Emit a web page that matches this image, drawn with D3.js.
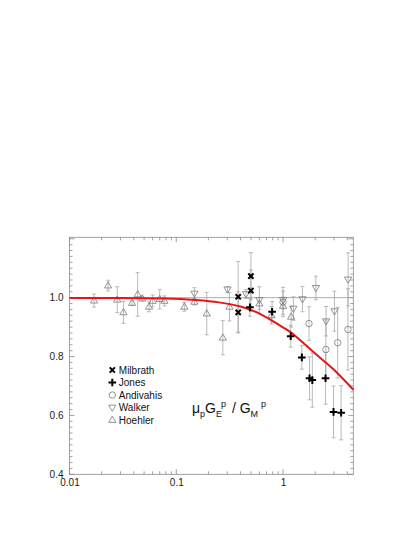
<!DOCTYPE html>
<html>
<head>
<meta charset="utf-8">
<script src="https://cdn.jsdelivr.net/npm/d3@7"></script>
<style>
html,body{margin:0;padding:0;background:#fff;}
svg{display:block;font-family:"Liberation Sans",Arial,Helvetica,sans-serif;}
</style>
</head>
<body>
<script>
// ---- data ----
// each point: [Q2, value, error]
const milbrath = [[0.38,1.003,0.12],[0.38,0.950,0.07],[0.50,1.073,0.08],[0.50,1.024,0.07]];
const jones = [[0.49,0.967,0.03],[0.79,0.952,0.035],[1.18,0.869,0.037],[1.50,0.797,0.04],
               [1.77,0.726,0.073],[1.88,0.720,0.092],[2.50,0.726,0.088],[2.97,0.612,0.088],[3.50,0.609,0.092]];
const andivahis = [[1.00,0.985,0.05],[1.75,0.912,0.057],[2.52,0.824,0.10],[3.25,0.847,0.12],[4.05,0.892,0.138]];
const walker = [[0.148,1.014,0.02],[0.302,1.028,0.01],[0.45,1.012,0.015],[0.60,0.992,0.045],[1.00,0.992,0.03],
                [1.25,0.963,0.04],[1.52,0.995,0.043],[2.03,1.033,0.04],[2.53,0.920,0.05],[3.03,0.954,0.068],[4.07,1.062,0.09]];
const hoehler = [[0.017,0.990,0.022],[0.023,1.041,0.018],[0.028,0.993,0.044],[0.032,0.950,0.037],[0.0386,0.982,0.008],
                 [0.0435,1.011,0.074],[0.048,0.997,0.008],[0.0556,0.969,0.017],[0.060,0.989,0.02],[0.070,0.995,0.033],
                 [0.0774,0.989,0.017],[0.119,0.969,0.015],[0.148,0.986,0.011],[0.193,0.946,0.072],[0.273,0.864,0.058],
                 [0.315,0.969,0.048],[0.60,0.980,0.02],[0.78,0.940,0.03],[1.00,0.972,0.03],[1.19,0.935,0.035]];
// theory curve
const curveQ2 = [0.01,0.03,0.08,0.15,0.25,0.40,0.60,0.94,1.25,1.45,2.0,3.0,4.55];
const curveVal = [0.999,0.999,0.997,0.992,0.984,0.970,0.946,0.905,0.876,0.855,0.810,0.755,0.687];
const legendNames = ["Milbrath","Jones","Andivahis","Walker","Hoehler"];
const xTickLabels = [0.01,0.1,1];
const yTickLabels = [0.4,0.6,0.8,1.0];
const xDomain = [0.01,4.55];
const yDomain = [0.4,1.205];

// ---- layout ----
const W = 414, H = 535;
const L = 69.5, R = 353.3, T = 237.3, B = 474.3;
const frameCol = "#8a8a8a", markCol = "#7a7a7a", errCol = "#a8a8a8";

const svg = d3.select("body").append("svg").attr("width", W).attr("height", H);
svg.append("rect").attr("width", W).attr("height", H).attr("fill", "#fff");

const x = d3.scaleLog().domain(xDomain).range([L, R]);
const y = d3.scaleLinear().domain(yDomain).range([B, T]);

// minor/major ticks
const xMinor = x.ticks().filter(v => v >= xDomain[0] && v <= xDomain[1]);
const yMinor = d3.range(0.40, 1.2001, 0.02).map(v => +v.toFixed(2));
const isMajorX = v => xTickLabels.some(t => Math.abs(t - v) < 1e-9);
const isMajorY = v => Math.abs(v * 5 - Math.round(v * 5)) < 1e-6;

function tickAxis(axisGen, vals, isMajor, transform) {
  const g = svg.append("g").attr("transform", transform);
  g.call(axisGen.tickValues(vals).tickSize(0).tickFormat(""));
  g.select(".domain").remove();
  return g;
}
// draw ticks manually as lines using scales
const tk = svg.append("g").attr("stroke", frameCol).attr("stroke-width", 0.8);
xMinor.forEach(v => {
  const len = isMajorX(v) ? 5 : 3;
  tk.append("line").attr("x1", x(v)).attr("x2", x(v)).attr("y1", B).attr("y2", B - len);
  tk.append("line").attr("x1", x(v)).attr("x2", x(v)).attr("y1", T).attr("y2", T + len);
});
yMinor.forEach(v => {
  const len = isMajorY(v) ? 5 : 3;
  tk.append("line").attr("y1", y(v)).attr("y2", y(v)).attr("x1", L).attr("x2", L + len);
  tk.append("line").attr("y1", y(v)).attr("y2", y(v)).attr("x1", R).attr("x2", R - len);
});

// axis labels via d3 axes
const xAxis = svg.append("g").attr("transform", `translate(0,${B})`)
  .call(d3.axisBottom(x).tickValues(xTickLabels).tickSize(0).tickPadding(5)
        .tickFormat(d => d3.format("~g")(d)));
xAxis.select(".domain").remove();
xAxis.selectAll("text").attr("font-size", 10).attr("fill", "#222").attr("font-family", null);

const yAxis = svg.append("g").attr("transform", `translate(${L},0)`)
  .call(d3.axisLeft(y).tickValues(yTickLabels).tickSize(0).tickPadding(6).tickFormat(d3.format(".1f")));
yAxis.select(".domain").remove();
yAxis.selectAll("text").attr("font-size", 10).attr("fill", "#222").attr("font-family", null);

// frame
svg.append("rect").attr("x", L).attr("y", T).attr("width", R - L).attr("height", B - T)
  .attr("fill", "none").attr("stroke", frameCol).attr("stroke-width", 0.8);

// unity line
svg.append("line").attr("x1", L).attr("x2", R).attr("y1", y(1)).attr("y2", y(1))
  .attr("stroke", "#999").attr("stroke-width", 0.8);

// error bars
const allSets = [hoehler, walker, andivahis, milbrath, jones];
const eg = svg.append("g").attr("stroke", errCol).attr("stroke-width", 0.8).attr("fill", "none");
allSets.forEach(set => set.forEach(([q, v, e]) => {
  const cx = x(q);
  eg.append("line").attr("x1", cx).attr("x2", cx).attr("y1", y(v - e)).attr("y2", y(v + e));
  eg.append("line").attr("x1", cx - 2).attr("x2", cx + 2).attr("y1", y(v - e)).attr("y2", y(v - e));
  eg.append("line").attr("x1", cx - 2).attr("x2", cx + 2).attr("y1", y(v + e)).attr("y2", y(v + e));
}));

// marker path generators
const triUp = (cx, cy) => `M${cx},${cy - 3.8}L${cx + 3.6},${cy + 2.4}L${cx - 3.6},${cy + 2.4}Z`;
const triDown = (cx, cy) => `M${cx},${cy + 3.8}L${cx + 3.6},${cy - 2.4}L${cx - 3.6},${cy - 2.4}Z`;
const circ = (cx, cy) => `M${cx + 3.2},${cy}A3.2,3.2 0 1,1 ${cx - 3.2},${cy}A3.2,3.2 0 1,1 ${cx + 3.2},${cy}Z`;
const cross = (cx, cy) => `M${cx - 2.6},${cy - 2.6}L${cx + 2.6},${cy + 2.6}M${cx - 2.6},${cy + 2.6}L${cx + 2.6},${cy - 2.6}`;
const plus = (cx, cy) => `M${cx - 3.8},${cy}L${cx + 3.8},${cy}M${cx},${cy - 3.8}L${cx},${cy + 3.8}`;

function drawOpen(set, gen) {
  svg.append("g").selectAll("path").data(set).join("path")
    .attr("d", d => gen(x(d[0]), y(d[1])))
    .attr("fill", "none").attr("stroke", markCol).attr("stroke-width", 0.8);
}
drawOpen(hoehler, triUp);
drawOpen(walker, triDown);
drawOpen(andivahis, circ);

// theory curve
const line = d3.line().x(d => x(d[0])).y(d => y(d[1])).curve(d3.curveMonotoneX);
svg.append("path").attr("d", line(curveQ2.map((q, i) => [q, curveVal[i]])))
  .attr("fill", "none").attr("stroke", "#e8141a").attr("stroke-width", 2);

function drawBold(set, gen) {
  svg.append("g").selectAll("path").data(set).join("path")
    .attr("d", d => gen(x(d[0]), y(d[1])))
    .attr("fill", "none").attr("stroke", "#000").attr("stroke-width", 2);
}
drawBold(milbrath, cross);
drawBold(jones, plus);

// legend
const legX = 112.3, legY0 = 370, legDY = 12.5;
const legGens = [cross, plus, circ, triDown, triUp];
legendNames.forEach((name, i) => {
  const cy = legY0 + i * legDY;
  const bold = i < 2;
  svg.append("path").attr("d", legGens[i](legX, cy)).attr("fill", "none")
    .attr("stroke", bold ? "#000" : markCol).attr("stroke-width", bold ? 2 : 0.8);
  svg.append("text").attr("x", legX + 6.5).attr("y", cy + 3.6).attr("font-size", 10)
    .attr("fill", "#111").text(name);
});

// formula label
const lab = svg.append("text").attr("x", 192).attr("y", 413).attr("font-size", 14).attr("fill", "#111");
lab.append("tspan").text("μ");
lab.append("tspan").attr("font-size", 9).attr("dy", 3.5).text("p");
lab.append("tspan").attr("dy", -3.5).text("G");
lab.append("tspan").attr("font-size", 9).attr("dy", 3.5).text("E");
lab.append("tspan").attr("font-size", 9).attr("dx", -1).attr("dy", -10).text("p");
lab.append("tspan").attr("dy", 6.5).attr("dx", 2).text(" / G");
lab.append("tspan").attr("font-size", 9).attr("dy", 3.5).text("M");
lab.append("tspan").attr("font-size", 9).attr("dx", 3).attr("dy", -10).text("p");
</script>
</body>
</html>
